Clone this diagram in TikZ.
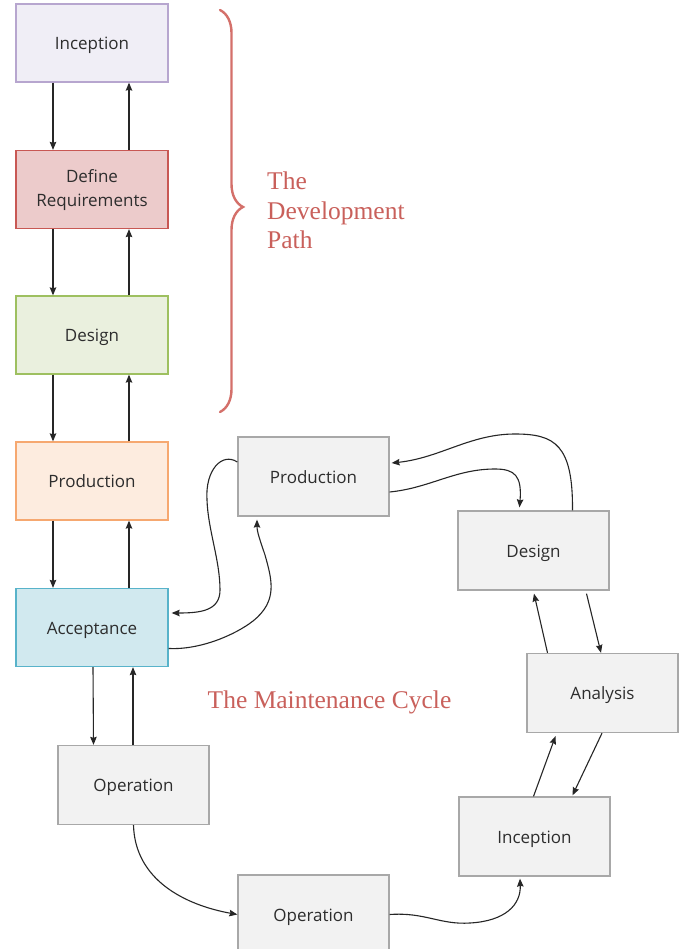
\documentclass[tikz,border=0pt]{standalone}
\usepackage{fontspec}
\setmainfont{Open Sans}
\newfontfamily\labelfont{Liberation Serif}
\usetikzlibrary{arrows.meta,decorations.pathreplacing}

\definecolor{boxtext}{RGB}{45,45,45}
\definecolor{capred}{RGB}{201,96,91}
\definecolor{bracered}{RGB}{212,112,106}
\definecolor{incfill}{RGB}{240,238,246}\definecolor{incdraw}{RGB}{183,166,207}
\definecolor{reqfill}{RGB}{236,203,203}\definecolor{reqdraw}{RGB}{200,88,84}
\definecolor{desfill}{RGB}{234,240,222}\definecolor{desdraw}{RGB}{158,192,96}
\definecolor{prodfill}{RGB}{253,236,223}\definecolor{proddraw}{RGB}{246,168,112}
\definecolor{accfill}{RGB}{209,233,239}\definecolor{accdraw}{RGB}{88,179,202}
\definecolor{grayfill}{RGB}{242,242,242}\definecolor{graydraw}{RGB}{168,168,168}

\tikzset{
  stage/.style={draw, line width=1.3pt, minimum width=152pt, minimum height=78pt,
    inner sep=0pt, text=boxtext, align=center, text height=13pt, text depth=0pt,
    font=\fontsize{17}{24}\selectfont},
  graystage/.style={stage, fill=grayfill, draw=graydraw, minimum width=151pt, minimum height=79pt},
  flow/.style={line width=1.1pt, black!85, -{Stealth[length=8pt,width=6.5pt,inset=1pt]}},
  caption/.style={text=capred, font=\labelfont\fontsize{25.5}{29.5}\selectfont,
    align=left, inner sep=0pt}
}

\begin{document}
\begin{tikzpicture}[x=1pt,y=-1pt]
\clip (0,0) rectangle (683,949);
\fill[white] (0,0) rectangle (683,949);

% development path column
\node[stage, fill=incfill, draw=incdraw]   (incL)  at (92,43)    {Inception};
\node[stage, fill=reqfill, draw=reqdraw, text height=35pt] (reqL) at (92,189.5) {Define\\Requirements};
\node[stage, fill=desfill, draw=desdraw]   (desL)  at (92,335)   {Design};
\node[stage, fill=prodfill, draw=proddraw] (prodL) at (92,481)   {Production};
\node[stage, fill=accfill, draw=accdraw]   (accL)  at (92,627.5) {Acceptance};

\foreach \a/\b in {incL/reqL, reqL/desL, desL/prodL, prodL/accL}{
  \draw[flow] ([xshift=-39pt]\a.south) -- ([xshift=-39pt]\b.north);
  \draw[flow] ([xshift=37pt]\b.north) -- ([xshift=37pt]\a.south);
}

% maintenance cycle
\node[graystage] (prodM) at (313.5,476.5) {Production};
\node[graystage] (desM)  at (533.5,550.5) {Design};
\node[graystage] (anaM)  at (602.5,693)   {Analysis};
\node[graystage] (incM)  at (534.5,836.5) {Inception};
\node[graystage] (opA)   at (133.5,785)   {Operation};
\node[graystage] (opB)   at (313.5,914.5) {Operation};

% acceptance <-> first operation
\draw[flow] ([xshift=1pt]accL.south) -- ([xshift=-40pt]opA.north);
\draw[flow] ([xshift=-0.5pt]opA.north) -- ([xshift=41pt]accL.south);

% operation -> operation -> inception
\draw[flow] (opA.south) .. controls (135,880) and (185,905) .. (opB.west);
\draw[flow] (opB.east) .. controls (425,912) and (440,925) .. (470,923)
  .. controls (505,921) and (521,905) .. ([xshift=-14.5pt,yshift=-2pt]incM.south);

% inception <-> analysis
\draw[flow] ([xshift=-1pt]incM.north) -- ([xshift=-47pt,yshift=-3pt]anaM.south);
\draw[flow] ([xshift=-0.5pt]anaM.south) -- ([xshift=38pt,yshift=1pt]incM.north);

% analysis <-> design
\draw[flow] ([xshift=-55pt]anaM.north) -- ([xshift=0.5pt,yshift=-3pt]desM.south);
\draw[flow] ([xshift=53pt,yshift=-3pt]desM.south) -- ([xshift=-1.5pt]anaM.north);

% design <-> production
\draw[flow] ([xshift=39pt]desM.north) .. controls (573,445) and (555,434) .. (515,434)
  .. controls (470,434) and (440,458) .. ([xshift=2pt,yshift=13.5pt]prodM.east);
\draw[flow] ([yshift=-15.5pt]prodM.east) .. controls (430,488) and (455,469) .. (495,469)
  .. controls (515,469) and (522,476) .. ([xshift=-14pt,yshift=3pt]desM.north);

% production <-> acceptance
\draw[flow] ([yshift=14.5pt]prodM.west) .. controls (222,452) and (205,470) .. (207,500)
  .. controls (208,530) and (220,560) .. (220,590)
  .. controls (220,611) and (200,613) .. ([xshift=3pt,yshift=14.5pt]accL.east);
\draw[flow] ([yshift=-21pt]accL.east) .. controls (200,650) and (235,635) .. (253,621)
  .. controls (278,601) and (272,580) .. (265,555)
  .. controls (260,540) and (257,532) .. ([xshift=-56.5pt,yshift=-3pt]prodM.south);

% captions
\draw[bracered, line width=2.4pt, line cap=round,
  decorate, decoration={brace, amplitude=23pt, aspect=0.49}]
  (220,10) -- (220,412);
\node[caption, anchor=north west] (devcap) at (267,172) {The\\Development\\Path};
\node[caption, anchor=base] (maincap) at (329.5,708) {The Maintenance Cycle};
\end{tikzpicture}
\end{document}
